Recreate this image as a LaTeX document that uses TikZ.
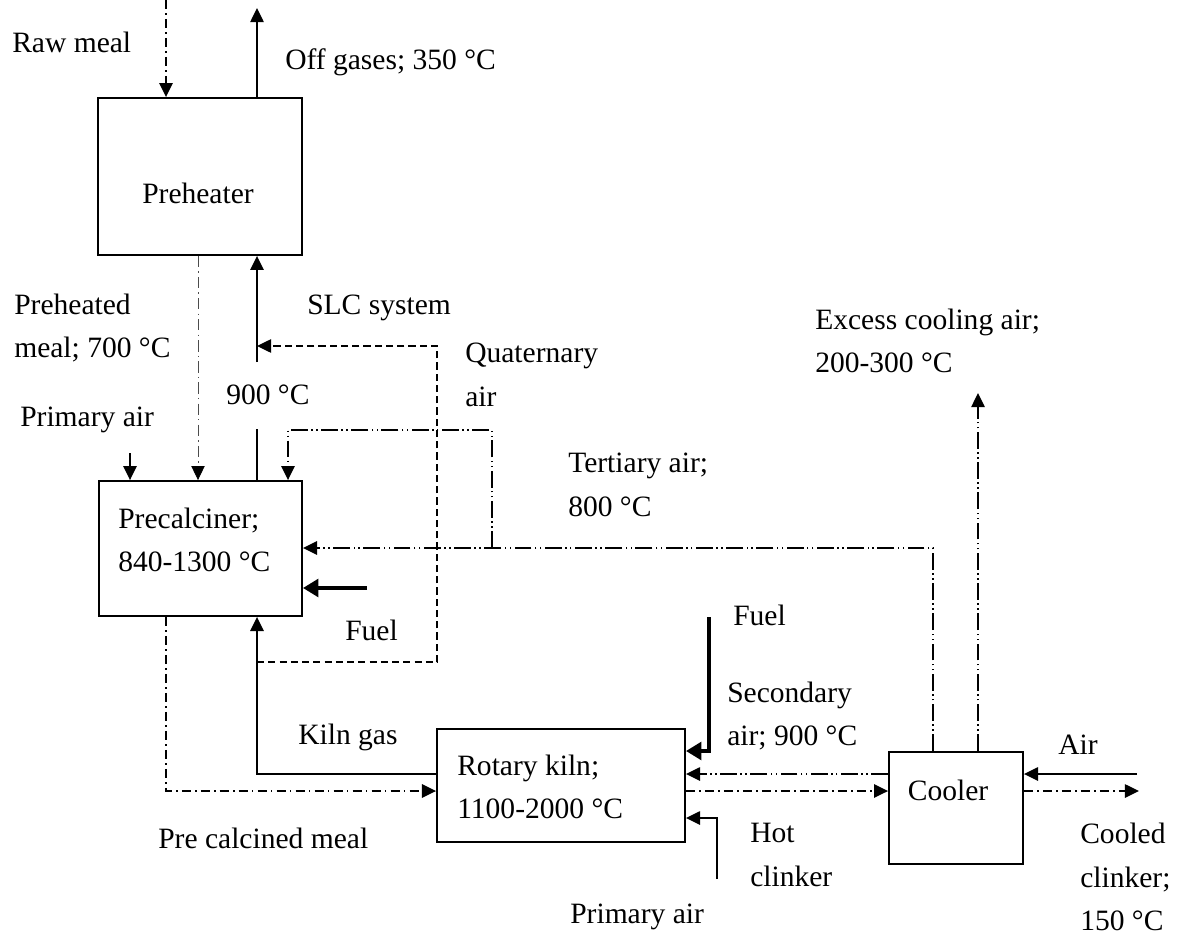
\documentclass[tikz,border=0pt]{standalone}
\usepackage{fontspec}
\setmainfont{Liberation Serif}
\usetikzlibrary{arrows.meta, positioning}
\tikzstyle{unit} = [
    rectangle,
    draw=black,
    line width=1.3pt,
    inner sep=0pt
]
\tikzstyle{txt} = [anchor=west, align=left, inner sep=0pt, font=\fontsize{21}{31}\selectfont]
\tikzstyle{gas} = [line width=1.1pt, -{Triangle[length=10pt,width=9.5pt,color=black]}]
\tikzstyle{pipe} = [line width=1.1pt]
\tikzstyle{meal} = [gas, dash pattern=on 6.5pt off 3pt on 1pt off 3pt]
\tikzstyle{finemeal} = [gas, line width=0.6pt, black!70, dash pattern=on 8pt off 3pt on 1pt off 3pt]
\tikzstyle{air} = [gas, dash pattern=on 12pt off 2.5pt on 1pt off 2.5pt on 1pt off 2.5pt]
\tikzstyle{slc} = [gas, dash pattern=on 5pt off 3pt]
\tikzstyle{fuel} = [line width=3.3pt, -{Triangle[length=11pt,width=12.5pt]}]

\begin{document}
\begin{tikzpicture}[x=0.025cm, y=-0.025cm]
    \useasboundingbox (0,0) rectangle (1181,938);
    % Anlagenteile
    \node (pre) [unit, minimum width=5.1cm, minimum height=3.925cm] at (200,176.5) {};
    \node (pcal) [unit, minimum width=5.075cm, minimum height=3.375cm] at (200.5,548.5) {};
    \node (kiln) [unit, minimum width=6.2cm, minimum height=2.825cm] at (561,785.5) {};
    \node (cool) [unit, minimum width=3.35cm, minimum height=2.8cm] at (956,808) {};
    \node (preT) [txt, anchor=center] at (198,193) {Preheater};
    \node (pcalT) [txt] at (118,540) {Precalciner;\\840-1300 °C};
    \node (kilnT) [txt] at (457,787) {Rotary kiln;\\1100-2000 °C};
    \node (coolT) [txt, anchor=center] at (948,790) {Cooler};
    % Texte
    \node (rawL) [txt] at (12,42) {Raw meal};
    \node (offL) [txt] at (285,62) {Off gases; 350 °C};
    \node (phmL) [txt] at (14,328) {Preheated\\meal; 700 °C};
    \node (slcL) [txt] at (307,308) {SLC system};
    \node (quatL) [txt] at (465,375) {Quaternary\\air};
    \node (hotgasL) [txt] at (226,395) {900 °C};
    \node (pa1L) [txt] at (20,420) {Primary air};
    \node (excL) [txt] at (815,341) {Excess cooling air;\\200-300 °C};
    \node (tertL) [txt] at (568,485) {Tertiary air;\\800 °C};
    \node (fuel1L) [txt] at (345,630) {Fuel};
    \node (kgL) [txt] at (298,737) {Kiln gas};
    \node (fuel2L) [txt] at (733,615) {Fuel};
    \node (secL) [txt] at (727,716) {Secondary\\air; 900 °C};
    \node (airL) [txt] at (1058,745) {Air};
    \node (hcL) [txt] at (750,855) {Hot\\clinker};
    \node (pcmL) [txt] at (158,838) {Pre calcined meal};
    \node (pa2L) [txt] at (570,917) {Primary air};
    \node (ccL) [txt] at (1080,877) {Cooled\\clinker;\\150 °C};
    % Ströme
    \coordinate (rawIn) at (166,0);
    \coordinate (offOut) at (257,8);
    \coordinate (phm) at (198,0);
    \coordinate (gasUp) at (257,362);
    \coordinate (gasTop) at (257,429);
    \coordinate (slcA) at (257,662);
    \coordinate (slcB) at (437,346);
    \coordinate (pa1) at (130,453);
    \coordinate (tert) at (933,548);
    \coordinate (qa) at (492,430);
    \coordinate (qb) at (288,430);
    \coordinate (fuel1) at (367,588);
    \coordinate (kg) at (257,774);
    \coordinate (pcm) at (166,791);
    \coordinate (fk) at (709,617);
    \coordinate (fk2) at (709,751);
    \coordinate (sa) at (0,774);
    \coordinate (hc) at (0,791);
    \coordinate (pk) at (717,879);
    \coordinate (pk2) at (717,818);
    \coordinate (airIn) at (1137,774);
    \coordinate (ccOut) at (1139,791);
    \coordinate (exc) at (978,393);
    \draw [meal] (rawIn) -- (rawIn |- pre.north);
    \draw [gas] (offOut |- pre.north) -- (offOut);
    \draw [finemeal] (phm |- pre.south) -- (phm |- pcal.north);
    \draw [gas] (gasUp) -- (gasUp |- pre.south);
    \draw [pipe] (gasTop |- pcal.north) -- (gasTop);
    \draw [slc] (slcA) -| (slcB) -- (slcB -| gasUp);
    \draw [gas] (pa1) -- (pa1 |- pcal.north);
    \draw [air] (tert |- cool.north) -- (tert) -- (tert -| pcal.east);
    \draw [air] (qa |- tert) -- (qa) -- (qb) -- (qb |- pcal.north);
    \draw [fuel] (fuel1) -- (fuel1 -| pcal.east);
    \draw [gas] (kg -| kiln.west) -- (kg) -- (kg |- pcal.south);
    \draw [meal] (pcm |- pcal.south) -- (pcm) -- (pcm -| kiln.west);
    \draw [fuel] (fk) -- (fk2) -- (fk2 -| kiln.east);
    \draw [air] (sa -| cool.west) -- (sa -| kiln.east);
    \draw [meal] (hc -| kiln.east) -- (hc -| cool.west);
    \draw [gas] (pk) -- (pk2) -- (pk2 -| kiln.east);
    \draw [gas] (airIn) -- (airIn -| cool.east);
    \draw [meal] (ccOut -| cool.east) -- (ccOut);
    \draw [air] (exc |- cool.north) -- (exc);
\end{tikzpicture}
\end{document}
